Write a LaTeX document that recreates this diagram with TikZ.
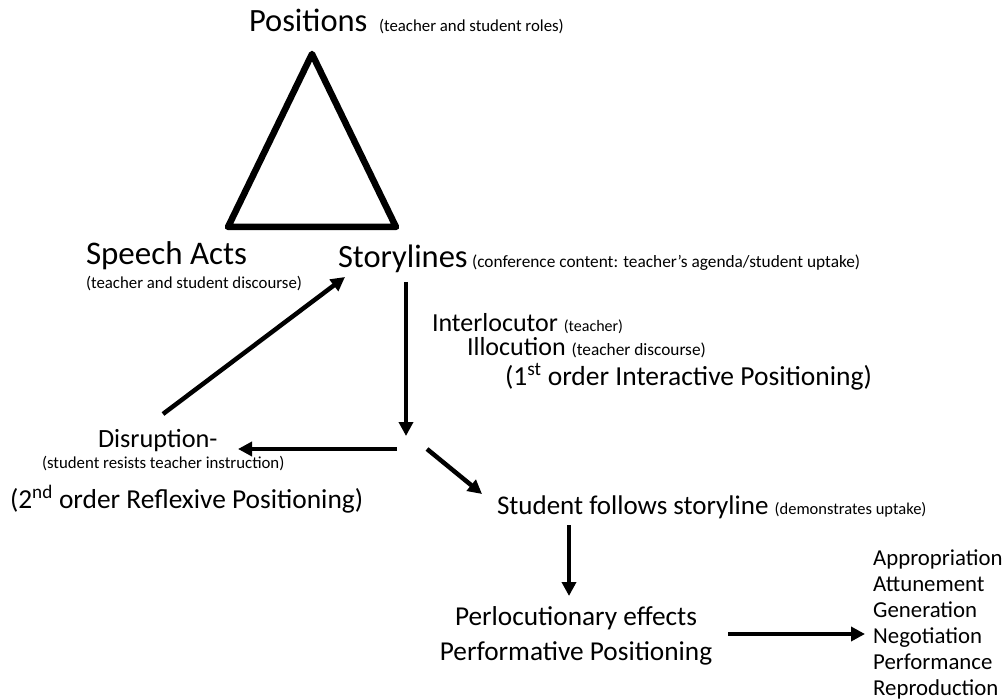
\documentclass[tikz,border=0pt]{standalone}
\usepackage{fontspec}
\setmainfont{Carlito}
\usetikzlibrary{arrows.meta}
\newcommand\fsz[1]{\fontsize{#1pt}{#1pt}\selectfont}
\begin{document}
\begin{tikzpicture}[x=1pt,y=-1pt,
  lbl/.style={inner sep=0pt,outer sep=0pt,anchor=base west},
  arr/.style={line width=4.5pt,-{Triangle[length=14pt,width=14pt]}},
  tri/.style={line width=6.5pt,line join=round}]
\useasboundingbox (0,0) rectangle (1008,700);

% Positions + triangle
\node[lbl] (pos) at (249,32) {\fsz{32.5}Positions};
\node[lbl] (posr) at (379,32) {\fsz{16.8}(teacher and student roles)};
\coordinate (tA) at (312,54);
\coordinate (tB) at (228,227);
\coordinate (tC) at (396,227);
\draw[tri] (tA) -- (tB) -- (tC) -- cycle;

% Speech acts
\node[lbl] (sa) at (86,265) {\fsz{33}Speech Acts};
\node[lbl] (sad) at (86,288) {\fsz{16.8}(teacher and student discourse)};

% Storylines
\node[lbl] (sl) at (338,268) {\fsz{32.5}Storylines};
\node[lbl] (sld) at (472,268) {\fsz{17.3}(conference content: teacher’s agenda/student uptake)};

% Interlocutor block
\node[lbl] (il) at (432,331) {\fsz{26}Interlocutor {\fsz{16}(teacher)}};
\node[lbl] (ill) at (467,355) {\fsz{26}Illocution {\fsz{17.3}(teacher discourse)}};
\node[lbl] (fo) at (505,385) {\fsz{27.5}(1\textsuperscript{st} order Interactive Positioning)};

% Disruption
\node[lbl] (dis) at (98,447) {\fsz{26.3}Disruption-};
\node[lbl] (disd) at (42,468) {\fsz{16.8}(student resists teacher instruction)};
\node[lbl] (so) at (10,508) {\fsz{27.4}(2\textsuperscript{nd} order Reflexive Positioning)};

% Student follows
\node[lbl] (sf) at (497,514) {\fsz{27}Student follows storyline {\fsz{16.5}(demonstrates uptake)}};

% Perlocutionary
\node[inner sep=0pt,anchor=base] (pe) at (576,625) {\fsz{27.3}Perlocutionary effects};
\node[inner sep=0pt,anchor=base] (pp) at (576,660) {\fsz{27.3}Performative Positioning};

% List (base anchor = baseline of the last line)
\node[inner sep=0pt,anchor=base west,align=left,font=\fontsize{22.8pt}{26pt}\selectfont] (lst) at (873,695)
  {Appropriation\\Attunement\\Generation\\Negotiation\\Performance\\Reproduction};

% Arrow end points
\coordinate (a1s) at (163,414);
\coordinate (a1e) at (345,277);
\coordinate (a2s) at (406,282);
\coordinate (a2e) at (406,436);
\coordinate (a3s) at (397,449);
\coordinate (a3e) at (238,449);
\coordinate (a4s) at (427,449);
\coordinate (a4e) at (482,494);
\coordinate (a5s) at (569,525);
\coordinate (a5e) at (569,596);
\coordinate (a6s) at (728,634);
\coordinate (a6e) at (865,634);

\draw[arr] (a1s) -- (a1e);
\draw[arr] (a2s) -- (a2e);
\draw[arr] (a3s) -- (a3e);
\draw[arr] (a4s) -- (a4e);
\draw[arr] (a5s) -- (a5e);
\draw[arr] (a6s) -- (a6e);
\end{tikzpicture}
\end{document}
